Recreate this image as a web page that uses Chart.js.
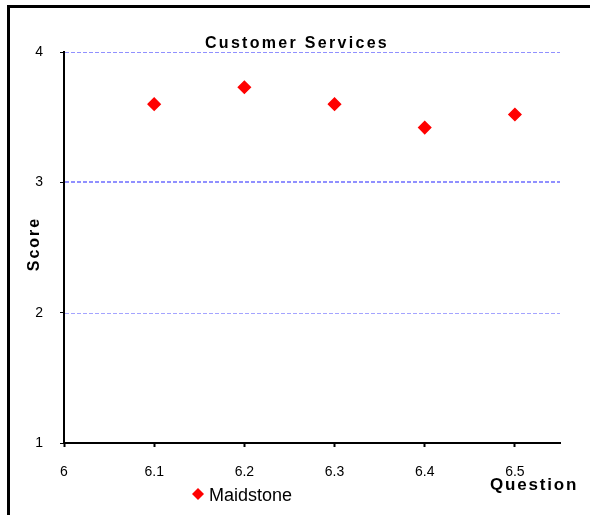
<!DOCTYPE html>
<html>
<head>
<meta charset="utf-8">
<script src="https://cdn.jsdelivr.net/npm/chart.js@4/dist/chart.umd.min.js"></script>
<style>
  html, body { margin: 0; padding: 0; background: #fff; }
  #wrap { position: relative; width: 590px; height: 515px; overflow: hidden; background: #fff; }
  #frame { position: absolute; left: 7px; top: 5px; width: 700px; height: 700px;
           border-left: 3px solid #000; border-top: 3px solid #000; }
  canvas { position: absolute; left: 0; top: 0; }
</style>
</head>
<body>
<div id="wrap">
  <div id="frame"></div>
  <canvas id="chart" width="590" height="515"></canvas>
</div>
<script>
// Question numbers and mean scores
const questions = [6.1, 6.2, 6.3, 6.4, 6.5];
const maidstoneScores = [3.60, 3.73, 3.60, 3.42, 3.52];
const xTicks = [6.0, 6.1, 6.2, 6.3, 6.4, 6.5];
const yTicks = [1, 2, 3, 4];
const gridValues = [2, 3, 4];
const seriesName = 'Maidstone';
const chartTitle = 'Customer Services';
const xAxisTitle = 'Question';
const yAxisTitle = 'Score';

const points = questions.map((q, i) => ({ x: q, y: maidstoneScores[i] }));

// Dashed horizontal gridlines at the y-scale positions
const dashedGrid = {
  id: 'dashedGrid',
  beforeDatasetsDraw(chart) {
    const { ctx, chartArea, scales } = chart;
    ctx.save();
    ctx.setLineDash([4, 2]);
    gridValues.forEach(v => {
      const y = Math.round(scales.y.getPixelForValue(v));
      const w = v === 3 ? 2 : 1;
      ctx.lineWidth = w;
      ctx.strokeStyle = v === 2 ? '#a4a4ff' : '#9090ff';
      ctx.beginPath();
      const off = w === 1 ? 0.5 : 0;
      ctx.moveTo(chartArea.left + 1, y + off);
      ctx.lineTo(chartArea.right, y + off);
      ctx.stroke();
    });
    ctx.restore();
  }
};

// Title, axis titles and legend drawn as text on the canvas
const labelsPlugin = {
  id: 'chartLabels',
  afterDraw(chart) {
    const ctx = chart.ctx;
    ctx.save();
    ctx.fillStyle = '#000';

    ctx.font = 'bold 16px "Liberation Sans", Arial, sans-serif';
    ctx.letterSpacing = '2.3px';
    ctx.textAlign = 'center';
    ctx.textBaseline = 'middle';
    ctx.fillText(chartTitle, 297, 44);

    ctx.letterSpacing = '2px';
    ctx.save();
    ctx.translate(35, 244);
    ctx.rotate(-Math.PI / 2);
    ctx.fillText(yAxisTitle, 0, 0);
    ctx.restore();

    ctx.font = 'bold 17px "Liberation Sans", Arial, sans-serif';
    ctx.letterSpacing = '1.8px';
    ctx.textAlign = 'left';
    ctx.textBaseline = 'alphabetic';
    ctx.fillText(xAxisTitle, 490, 490);

    // legend entry
    const ds = chart.data.datasets[0];
    ctx.fillStyle = ds.backgroundColor;
    ctx.beginPath();
    ctx.moveTo(192, 494); ctx.lineTo(198, 488); ctx.lineTo(204, 494); ctx.lineTo(198, 500);
    ctx.closePath();
    ctx.fill();
    ctx.fillStyle = '#000';
    ctx.letterSpacing = '0px';
    ctx.font = '18px "Liberation Sans", Arial, sans-serif';
    ctx.fillText(ds.label, 209, 501);
    ctx.restore();
  }
};

new Chart(document.getElementById('chart'), {
  type: 'scatter',
  data: {
    datasets: [{
      label: seriesName,
      data: points,
      pointStyle: 'rectRot',
      pointRadius: 6,
      pointHoverRadius: 6,
      backgroundColor: '#ff0000',
      borderColor: '#ff0000',
      borderWidth: 1.5,
      showLine: false
    }]
  },
  options: {
    responsive: false,
    animation: false,
    events: [],
    layout: { padding: { top: 52, right: 30, left: 0, bottom: 0 } },
    plugins: {
      legend: { display: false },
      title: { display: false },
      tooltip: { enabled: false }
    },
    scales: {
      x: {
        type: 'linear',
        min: 6.0,
        max: 6.55,
        afterFit(scale) { scale.height = 72; },
        afterBuildTicks(scale) { scale.ticks = xTicks.map(v => ({ value: v })); },
        border: { display: true, color: '#000', width: 2 },
        grid: {
          drawOnChartArea: false,
          drawTicks: true,
          tickLength: 4,
          tickColor: '#000',
          tickWidth: 2
        },
        ticks: {
          color: '#000',
          padding: 17,
          maxRotation: 0,
          autoSkip: false,
          font: { family: '"Liberation Sans", Arial, sans-serif', size: 14 },
          callback: (v) => (Math.abs(v - 6) < 1e-9 ? '6' : v.toFixed(1))
        }
      },
      y: {
        min: 1,
        max: 4,
        afterFit(scale) { scale.width = 64; },
        afterBuildTicks(scale) { scale.ticks = yTicks.map(v => ({ value: v })); },
        border: { display: true, color: '#000', width: 2 },
        grid: {
          drawOnChartArea: false,
          drawTicks: true,
          tickLength: 4,
          tickColor: '#000',
          tickWidth: 1
        },
        ticks: {
          color: '#000',
          padding: 17,
          font: { family: '"Liberation Sans", Arial, sans-serif', size: 14 },
          callback: (v) => String(v)
        }
      }
    }
  },
  plugins: [dashedGrid, labelsPlugin]
});
</script>
</body>
</html>
